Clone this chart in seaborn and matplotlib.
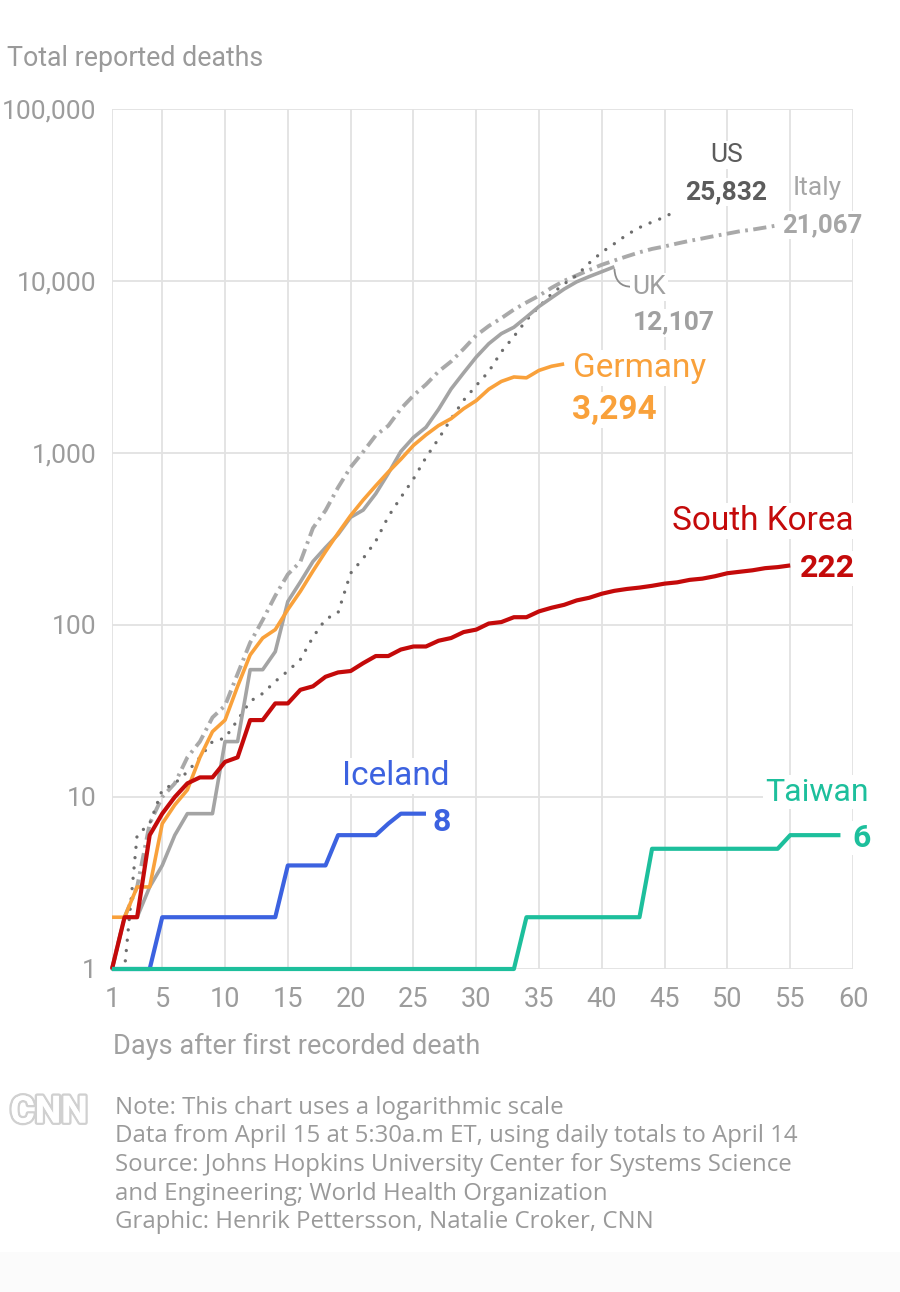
import matplotlib
matplotlib.use('Agg')
import matplotlib.pyplot as plt
import matplotlib.patheffects as pe
from matplotlib.patches import Rectangle
from matplotlib.ticker import NullLocator
import seaborn as sns

# total reported deaths, one value per day after the first recorded death
italy = [1, 2, 3, 7, 10, 12, 17, 21, 29, 34, 52, 79, 107, 148, 197, 233, 366, 463,
         631, 827, 1016, 1266, 1441, 1809, 2158, 2503, 2978, 3405, 4032, 4825, 5476,
         6077, 6820, 7503, 8215, 9134, 10023, 10779, 11591, 12428, 13155, 13915, 14681,
         15362, 15887, 16523, 17127, 17669, 18279, 18849, 19468, 19899, 20465, 21067]
us = [1, 1, 6, 7, 11, 12, 14, 17, 21, 22, 28, 36, 40, 47, 54, 63, 85, 108, 118, 200,
      244, 307, 427, 552, 706, 942, 1209, 1581, 2026, 2467, 2978, 3873, 4757, 5926,
      7087, 8407, 9619, 10783, 12722, 14695, 16478, 18586, 20463, 22020, 23529, 25832]
uk = [1, 2, 2, 3, 4, 6, 8, 8, 8, 21, 21, 55, 55, 70, 137, 178, 234, 282, 336, 423,
      466, 580, 761, 1021, 1231, 1411, 1793, 2357, 2926, 3611, 4320, 4943, 5385, 6171,
      7111, 7993, 8974, 9892, 10612, 11329, 12107]
germany = [2, 2, 3, 3, 7, 9, 11, 17, 24, 28, 44, 67, 84, 94, 123, 157, 206, 267, 342,
           433, 533, 645, 775, 920, 1107, 1275, 1444, 1584, 1810, 2016, 2349, 2607,
           2767, 2736, 3022, 3194, 3294]
south_korea = [1, 2, 2, 6, 8, 10, 12, 13, 13, 16, 17, 28, 28, 35, 35, 42, 44, 50, 53,
               54, 60, 66, 66, 72, 75, 75, 81, 84, 91, 94, 102, 104, 111, 111, 120, 126,
               131, 139, 144, 152, 158, 162, 165, 169, 174, 177, 183, 186, 192, 200,
               204, 208, 214, 217, 222]
iceland = [1, 1, 1, 1, 2, 2, 2, 2, 2, 2, 2, 2, 2, 2, 4, 4, 4, 4, 6, 6, 6, 6, 7, 8, 8, 8]
taiwan = [1, 1, 1, 1, 1, 1, 1, 1, 1, 1, 1, 1, 1, 1, 1, 1, 1, 1, 1, 1, 1, 1, 1, 1, 1,
          1, 1, 1, 1, 1, 1, 1, 1, 2, 2, 2, 2, 2, 2, 2, 2, 2, 2, 5, 5, 5, 5, 5, 5, 5, 5,
          5, 5, 5, 6, 6, 6, 6, 6]

x_ticks = [1, 5, 10, 15, 20, 25, 30, 35, 40, 45, 50, 55, 60]
y_ticks = [1, 10, 100, 1000, 10000, 100000]
y_tick_labels = ['1', '10', '100', '1,000', '10,000', '100,000']

notes = ['Note: This chart uses a logarithmic scale',
         'Data from April 15 at 5:30a.m ET, using daily totals to April 14',
         'Source: Johns Hopkins University Center for Systems Science',
         'and Engineering; World Health Organization',
         'Graphic: Henrik Pettersson, Natalie Croker, CNN']

sns.set_theme(style='white')
plt.rcParams['font.family'] = ['Roboto', 'DejaVu Sans']

W, H = 900, 1292
fig = plt.figure(figsize=(W / 100, H / 100), dpi=100, facecolor='white')
# faint grey strip at the very bottom
fig.patches.append(Rectangle((0, 0), 1, 40 / H, transform=fig.transFigure,
                             fc='#fbfbfb', ec='none', zorder=0))
ax = fig.add_axes([112 / W, 1 - 969 / H, (853 - 112) / W, (969 - 109) / H])

# grays first, coloured lines on top
lines = [
    (italy, dict(color='#a9a9a9', lw=2.8, linestyle=(0, (3.4, 1.4, 0.7, 1.4)))),
    (us, dict(color='#6e6e6e', lw=2.4, linestyle=(0, (0.01, 3.1)), dash_capstyle='round')),
    (uk, dict(color='#a4a4a4', lw=2.6, linestyle='-')),
    (germany, dict(color='#f9a13b', lw=2.6, linestyle='-')),
    (south_korea, dict(color='#c40a0a', lw=3.0, linestyle='-')),
    (iceland, dict(color='#3c62e0', lw=3.0, linestyle='-')),
    (taiwan, dict(color='#1dbf9c', lw=3.0, linestyle='-')),
]
for vals, kw in lines:
    days = list(range(1, len(vals) + 1))
    sns.lineplot(x=days, y=vals, ax=ax, clip_on=False, solid_joinstyle='round',
                 solid_capstyle='butt', **kw)

ax.set_yscale('log')
ax.set_xlim(1, 60)
ax.set_ylim(1, 100000)
ax.set_xticks(x_ticks)
ax.set_xticklabels([str(t) for t in x_ticks])
ax.set_yticks(y_ticks)
ax.set_yticklabels(y_tick_labels)
ax.yaxis.set_minor_locator(NullLocator())
ax.grid(True, color='#e2e2e2', lw=1.3)
ax.set_axisbelow(True)
for s in ax.spines.values():
    s.set_visible(False)
ax.tick_params(axis='y', length=9, width=1.3, color='#dcdcdc', pad=2,
               labelsize=19, labelcolor='#9c9c9c')
ax.tick_params(axis='x', length=0, pad=12, labelsize=19.5, labelcolor='#9c9c9c')
ax.set_xlabel('')
ax.set_ylabel('')


def label(vals, text, dx, dy, color, size, weight='normal', ha='left'):
    ax.annotate(text, xy=(len(vals), vals[-1]), xytext=(dx, dy),
                textcoords='offset pixels', ha=ha, va='center', color=color,
                fontsize=size, fontweight=weight, zorder=6,
                bbox=dict(fc='white', ec='none', pad=1.5))


label(us, 'US', 49, 55, '#5c5c5c', 19, ha='center')
label(us, '25,832', 49, 18, '#5c5c5c', 19, 'bold', ha='center')
label(italy, 'Italy', 40, 37, '#a6a6a6', 19, ha='center')
label(italy, '21,067', 4, 0, '#a6a6a6', 18.5, 'bold')
label(uk, 'UK', 18, -20, '#a0a0a0', 19)
label(uk, '12,107', 18, -56, '#a0a0a0', 19, 'bold')
label(germany, 'Germany', 9, -4, '#f9a13b', 24)
label(germany, '3,294', 8, -46, '#f9a13b', 24, 'bold')
label(south_korea, 'South Korea', 63, 44, '#c40a0a', 24, ha='right')
label(south_korea, '222', 10, -3, '#c40a0a', 23, 'bold')
label(iceland, 'Iceland', 24, 38, '#3c62e0', 24, ha='right')
label(iceland, '8', 7, -8, '#3c62e0', 23, 'bold')
label(taiwan, 'Taiwan', 28, 43, '#1dbf9c', 23, ha='right')
label(taiwan, '6', 12, -3, '#1dbf9c', 23, 'bold')

# small hook from the end of the UK line to its label
ax.annotate('', xy=(len(uk), uk[-1]), xytext=(17, -20), textcoords='offset pixels',
            arrowprops=dict(arrowstyle='-', color='#8c8c8c', lw=1.3, shrinkA=0, shrinkB=2,
                            connectionstyle='angle3,angleA=0,angleB=90'))

fig.text(7 / W, 1 - 58 / H, 'Total reported deaths', ha='left', va='center',
         fontsize=19.3, color='#9a9a9a')
fig.text(113 / W, 1 - 1046 / H, 'Days after first recorded death', ha='left',
         va='center', fontsize=19.5, color='#a0a0a0')

for i, line in enumerate(notes):
    fig.text(115 / W, 1 - (1108 + 28.5 * i) / H, line, ha='left', va='center',
             fontsize=17.3, color='#9a9a9a', family=['Open Sans', 'DejaVu Sans'])

fig.text(49 / W, 1 - 1112 / H, 'CNN', ha='center', va='center', fontsize=27,
         fontweight='bold', color='white',
         path_effects=[pe.withStroke(linewidth=3.5, foreground='#d0d0d0'), pe.Normal()])

fig.savefig('out.png', dpi=100, facecolor='white')
